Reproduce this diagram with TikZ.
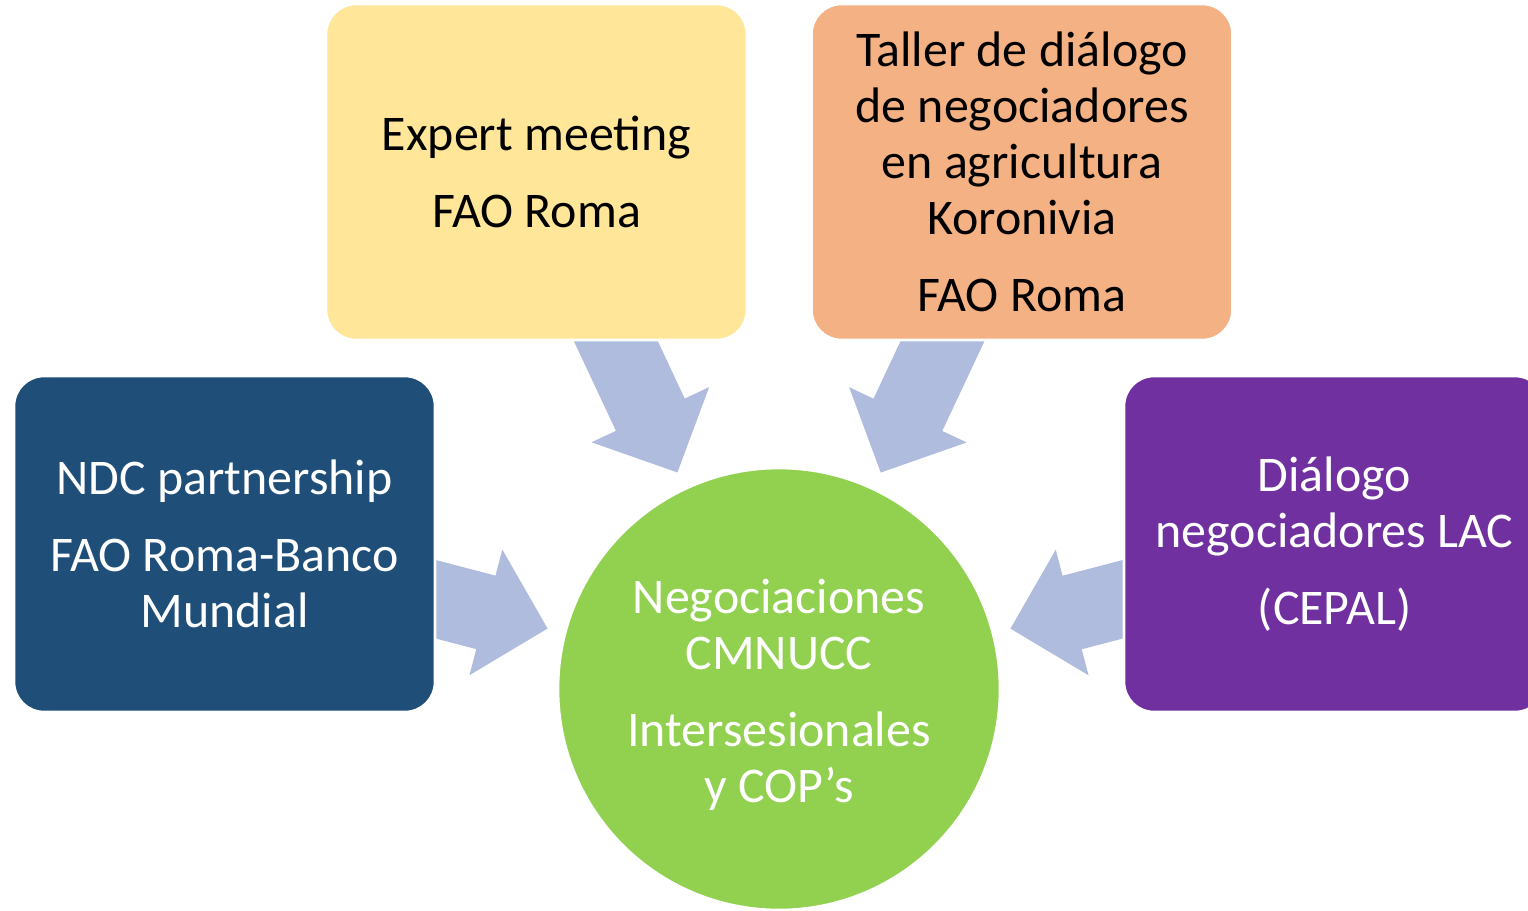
\documentclass[tikz,border=0pt]{standalone}
\usepackage{fontspec}
\setmainfont{Carlito}
\usetikzlibrary{arrows.meta}
\usetikzlibrary{positioning}

\definecolor{expertyellow}{RGB}{255,230,153}
\definecolor{tallerorange}{RGB}{244,177,131}
\definecolor{ndcblue}{RGB}{31,78,121}
\definecolor{lacpurple}{RGB}{112,48,160}
\definecolor{cmnuccgreen}{RGB}{146,208,80}
\definecolor{arrowblue}{RGB}{176,188,222}

\pgfdeclarelayer{background}
\pgfsetlayers{background,main}

\begin{document}
\begin{tikzpicture}[node distance=2cm,
    box/.style={draw=white, line width=1.5pt, rectangle, rounded corners=0.6cm, minimum width=8.42cm, minimum height=6.72cm, inner sep=0pt, outer sep=0pt, align=center, font=\fontsize{28.4}{31.9}\selectfont},
    hub/.style={draw=white, line width=1.5pt, circle, minimum size=8.84cm, inner sep=0pt, outer sep=0pt},
    hubtext/.style={align=center, font=\fontsize{28.4}{31.9}\selectfont, text=white},
    bigarrow/.style={draw=arrowblue, line width=1.52cm, -{Triangle[width=2.52cm,length=1.28cm]}, shorten >=0.36cm}]

    \useasboundingbox (0,0) rectangle (30.56,-18.2);
    \clip (0,0) rectangle (30.56,-18.2);

    % Centre
    \node [hub, fill=cmnuccgreen] (cmnucc) at (15.58,-13.78) {};
    \node [hubtext] (cmnucctext) at ([yshift=-0.12cm]cmnucc.center) {Negociaciones\\CMNUCC\\[12pt]Intersesionales\\y COP’s};

    % Meetings
    \node [box, fill=expertyellow] (expert) at (10.73,-3.44) {Expert meeting\\[12pt]FAO Roma};
    \node [right of=expert, node distance=9.71cm, box, fill=tallerorange] (taller) {Taller de diálogo\\de negociadores\\en agricultura\\Koronivia\\[12pt]FAO Roma};
    \node [box, fill=ndcblue, text=white] (ndc) at (4.49,-10.88) {NDC partnership\\[12pt]FAO Roma-Banco\\Mundial};
    \node [right of=ndc, node distance=22.2cm, box, fill=lacpurple, text=white] (lac) {Diálogo\\negociadores LAC\\[12pt](CEPAL)};

    % Arrows
    \begin{pgfonlayer}{background}
        \draw [bigarrow] (expert.center) -- (cmnucc);
        \draw [bigarrow] (taller.center) -- (cmnucc);
        \draw [bigarrow] (ndc.center) -- (cmnucc);
        \draw [bigarrow] (lac.center) -- (cmnucc);
    \end{pgfonlayer}

\end{tikzpicture}
\end{document}
